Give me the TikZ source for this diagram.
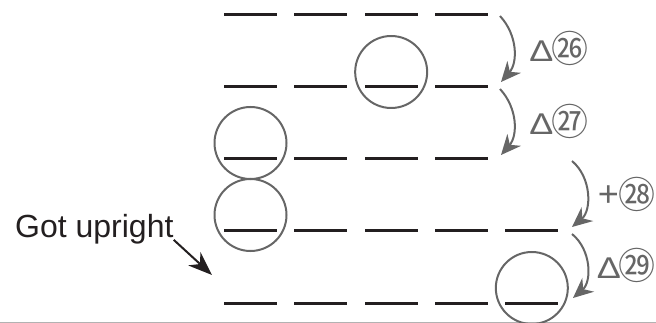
\documentclass[tikz,border=0pt]{standalone}
\usepackage{fontspec}
\setmainfont{Liberation Sans}
\newfontfamily\cjk{Noto Sans CJK SC}
\usetikzlibrary{positioning,arrows.meta}
\definecolor{ink}{HTML}{231F20}
\definecolor{mark}{HTML}{666666}
\newcommand{\cnum}[1]{{\cjk\fontsize{37pt}{37pt}\selectfont\raisebox{-1pt}{#1}}\kern-4pt}
\newcommand{\dlt}{{\fontsize{30pt}{30pt}\selectfont\scalebox{1.2}[1]{Δ}}\kern-2pt}
\newcommand{\pls}{{\fontsize{36pt}{36pt}\selectfont\raisebox{1pt}{+}}}
\tikzset{
bar/.style={fill=ink,minimum width=53pt,minimum height=3pt,inner sep=0pt},
ring/.style={draw=mark,line width=2pt,circle,minimum size=72pt,inner sep=0pt},
hop/.style={draw=mark,line width=2pt,-{Stealth[length=20pt,width=18pt]}},
hoplabel/.style={text=mark,font={\fontsize{30pt}{30pt}\selectfont},inner sep=0pt},
font={\fontsize{32pt}{36pt}\selectfont}
}

\begin{document}
\begin{tikzpicture}[x=1pt,y=-1pt]
  \useasboundingbox (0,0) rectangle (656,323);
  \draw[black!30,line width=1pt] (0,322) -- (656,322);
  % rows of bars
  \foreach \r/\n in {1/4,2/4,3/4,4/5,5/5}
    \foreach \c in {1,...,\n}
      \node[bar] (b\r-\c) at ({250.5+70.33*(\c-1)},{15+72*(\r-1)}) {};
  % circled bars
  \node[ring] (o1) at ([yshift=15pt]b2-3.center) {};
  \node[ring] (o2) at ([yshift=16pt]b3-1.center) {};
  \node[ring] (o3) at ([yshift=16pt]b4-1.center) {};
  \node[ring] (o4) at ([yshift=15pt]b5-5.center) {};
  % steps
  \coordinate (s1) at (500,16); \coordinate (e1) at (501,82);
  \coordinate (s2) at (500,89); \coordinate (e2) at (501,155);
  \coordinate (s3) at (572,161); \coordinate (e3) at (572,227);
  \coordinate (s4) at (572,234); \coordinate (e4) at (573,298);
  \draw[hop] (s1) to[bend left=42] node[hoplabel,right=15pt] {\dlt\cnum{㉖}} (e1);
  \draw[hop] (s2) to[bend left=42] node[hoplabel,right=15pt] {\dlt\cnum{㉗}} (e2);
  \draw[hop] (s3) to[bend left=50] node[hoplabel,right=10pt] {\pls\cnum{㉘}} (e3);
  \draw[hop] (s4) to[bend left=50] node[hoplabel,right=9pt] {\dlt\cnum{㉙}} (e4);
  % note
  \node[text=ink,inner sep=0pt,anchor=base west] (got) at (15,237) {Got upright};
  \coordinate (gt) at (212,275);
  \draw[ink,line width=2pt,-{Stealth[length=24pt,width=18pt]}] ([yshift=4pt]got.south east) -- (gt);
\end{tikzpicture}
\end{document}
